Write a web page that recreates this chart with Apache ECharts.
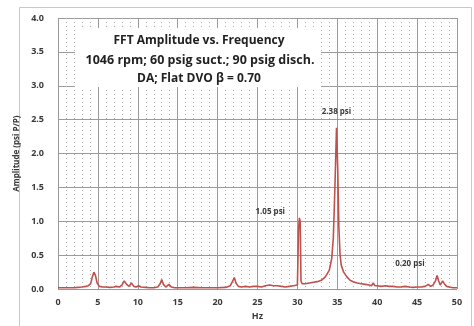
<!DOCTYPE html>
<html>
<head>
<meta charset="utf-8">
<script src="https://cdn.jsdelivr.net/npm/echarts@6/dist/echarts.min.js"></script>
<style>
  html, body { margin: 0; padding: 0; background: #fff; }
  #chart { width: 474px; height: 326px; }
</style>
</head>
<body>
<div id="chart"></div>
<script>
// spectrum: frequency (Hz) and amplitude (psi P/P)
var freqHz = [0, 0.5, 1, 1.5, 2, 2.5, 3, 3.5, 3.8, 4.1, 4.3, 4.5, 4.7, 4.9, 5.2, 5.6, 6, 6.5, 7, 7.3, 7.5, 7.7, 8, 8.3, 8.6, 8.9, 9.2, 9.5, 9.8, 10.1, 10.4, 11, 11.5, 12, 12.5, 12.8, 13, 13.2, 13.5, 13.9, 14.2, 14.6, 15, 16, 17, 18, 19, 20, 21, 21.6, 21.9, 22.1, 22.3, 22.6, 23, 23.5, 24, 24.5, 25, 25.5, 26, 26.5, 27, 27.5, 28, 28.5, 29, 29.5, 30, 30.15, 30.25, 30.35, 30.45, 30.6, 31, 31.5, 32, 32.5, 33, 33.5, 34, 34.3, 34.5, 34.7, 34.9, 35.05, 35.2, 35.35, 35.5, 35.8, 36.2, 36.6, 37, 37.5, 38, 38.5, 39, 39.3, 39.5, 39.7, 40, 40.5, 41, 41.5, 42, 42.5, 43, 43.5, 44, 44.5, 45, 45.5, 46, 46.4, 46.7, 47, 47.3, 47.5, 47.7, 47.9, 48.2, 48.4, 48.7, 49, 49.5, 50];
var ampPsi = [0.02, 0.02, 0.02, 0.02, 0.02, 0.025, 0.03, 0.04, 0.05, 0.08, 0.18, 0.25, 0.2, 0.09, 0.04, 0.03, 0.03, 0.025, 0.03, 0.04, 0.06, 0.03, 0.06, 0.12, 0.07, 0.04, 0.09, 0.04, 0.03, 0.05, 0.03, 0.025, 0.02, 0.02, 0.03, 0.08, 0.14, 0.07, 0.03, 0.07, 0.03, 0.02, 0.02, 0.02, 0.025, 0.02, 0.02, 0.02, 0.025, 0.05, 0.12, 0.17, 0.09, 0.04, 0.03, 0.04, 0.03, 0.04, 0.04, 0.03, 0.05, 0.06, 0.05, 0.05, 0.04, 0.03, 0.04, 0.05, 0.06, 0.9, 1.05, 1.0, 0.12, 0.08, 0.08, 0.09, 0.1, 0.11, 0.13, 0.18, 0.28, 0.45, 0.75, 1.5, 2.38, 1.8, 0.9, 0.5, 0.35, 0.25, 0.18, 0.13, 0.11, 0.09, 0.08, 0.07, 0.06, 0.05, 0.09, 0.05, 0.05, 0.04, 0.05, 0.04, 0.04, 0.03, 0.03, 0.04, 0.03, 0.025, 0.03, 0.03, 0.04, 0.07, 0.04, 0.06, 0.12, 0.2, 0.12, 0.06, 0.12, 0.08, 0.04, 0.03, 0.02, 0.02];

var titleLines = ['FFT Amplitude vs. Frequency', '1046 rpm; 60 psig suct.; 90 psig disch.', 'DA; Flat DVO \u03b2 = 0.70'];
var noteText = ['2.38 psi', '1.05 psi', '0.20 psi'];
var noteAt = [[34.9, 2.61], [26.6, 1.14], [44.1, 0.38]];

var points = freqHz.map(function (f, i) { return [f, ampPsi[i]]; });

var myChart = echarts.init(document.getElementById('chart'));
var labelFont = { color: '#3a3a3a', fontWeight: 'bold', fontFamily: 'Open Sans', fontSize: 9 };

var option = {
    animation: false,
    grid: { left: 58, right: 17, top: 18, bottom: 35, containLabel: false },
    xAxis: {
        type: 'value', min: 0, max: 50, interval: 5,
        name: 'Hz', nameLocation: 'middle', nameGap: 19,
        nameTextStyle: labelFont,
        axisLine: { show: false },
        axisTick: { show: false },
        axisLabel: Object.assign({ margin: 9 }, labelFont),
        splitLine: { show: true, lineStyle: { color: '#9a9a9a', width: 1 } },
        minorTick: { show: false, splitNumber: 5 },
        minorSplitLine: { show: true, lineStyle: { color: '#b0b0b0', type: [1, 3], width: 1 } }
    },
    yAxis: {
        type: 'value', min: 0, max: 4, interval: 0.5,
        name: 'Amplitude (psi P/P)', nameLocation: 'middle', nameGap: 30,
        nameTextStyle: Object.assign({}, labelFont, { fontSize: 8 }),
        axisLine: { show: false },
        axisTick: { show: false },
        axisLabel: Object.assign({ margin: 14, formatter: function (v) { return v.toFixed(1); } }, labelFont),
        splitLine: { show: true, lineStyle: { color: '#9a9a9a', width: 1 } }
    },
    series: [{
        type: 'line',
        data: points,
        symbol: 'none',
        lineStyle: { color: '#c0504d', width: 1.6 },
        markPoint: {
            symbol: 'circle', symbolSize: 0,
            label: Object.assign({ show: true, position: 'inside', formatter: '{b}' }, labelFont, { fontSize: 8 }),
            data: noteText.map(function (t, i) { return { name: t, coord: noteAt[i] }; })
        },
        z: 5
    }],
    graphic: [
        { type: 'rect', left: 17, top: 5, shape: { width: 452, height: 320 },
          style: { fill: 'none', stroke: '#c8c8c8', lineWidth: 1 }, silent: true },
        { type: 'rect', left: 75, top: 28, shape: { width: 246, height: 59 },
          style: { fill: '#fff' }, z: 10 },
        { type: 'text', x: 199, y: 35, z: 11,
          style: { text: titleLines[0], fill: '#222', font: 'bold 12px "Open Sans"', textAlign: 'center' } },
        { type: 'text', x: 200, y: 54, z: 11,
          style: { text: titleLines[1], fill: '#222', font: 'bold 12.5px "Open Sans"', textAlign: 'center' } },
        { type: 'text', x: 199, y: 73, z: 11,
          style: { text: titleLines[2], fill: '#222', font: 'bold 12px "Open Sans"', textAlign: 'center' } }
    ]
};

myChart.setOption(option);
</script>
</body>
</html>
